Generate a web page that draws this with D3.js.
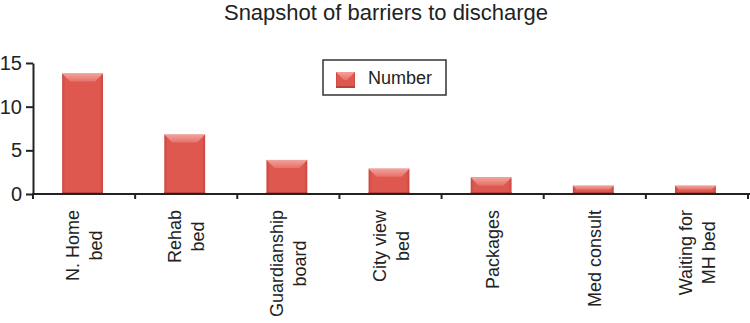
<!DOCTYPE html>
<html>
<head>
<meta charset="utf-8">
<script src="https://cdn.jsdelivr.net/npm/d3@7"></script>
<style>
  body { margin: 0; background: #fff; }
  text { font-family: "Liberation Sans", Arial, sans-serif; fill: #222; }
</style>
</head>
<body>
<script>
const categories = ["N. Home bed", "Rehab bed", "Guardianship board", "City view bed", "Packages", "Med consult", "Waiting for MH bed"]
const labelLines = [["N. Home", "bed"], ["Rehab", "bed"], ["Guardianship", "board"], ["City view", "bed"], ["Packages"], ["Med consult"], ["Waiting for", "MH bed"]]
const values = [13.8, 6.8, 3.9, 2.9, 1.9, 0.95, 0.95]
const yTicks = [0, 5, 10, 15]
const seriesName = "Number"

const WIDTH = 750
const HEIGHT = 323

const PADDING = {
    left: 33,
    right: 2,
    top: 63,
    bottom: 129
}

const svg = d3.select("body")
    .append("svg")
    .attr("width", WIDTH)
    .attr("height", HEIGHT)

const defs = svg.append("defs")

const face = defs.append("linearGradient")
    .attr("id", "face")
    .attr("x1", "0").attr("x2", "1").attr("y1", "0").attr("y2", "0")
face.append("stop").attr("offset", "0").attr("stop-color", "#c9463e")
face.append("stop").attr("offset", "0.08").attr("stop-color", "#de5850")
face.append("stop").attr("offset", "0.92").attr("stop-color", "#de5850")
face.append("stop").attr("offset", "1").attr("stop-color", "#c9463e")

const bevel = defs.append("linearGradient")
    .attr("id", "bevel")
    .attr("x1", "0").attr("x2", "0").attr("y1", "0").attr("y2", "1")
bevel.append("stop").attr("offset", "0").attr("stop-color", "#f3a29c")
bevel.append("stop").attr("offset", "1").attr("stop-color", "#e6716a")

svg.append("text")
    .attr("x", 386)
    .attr("y", 20)
    .attr("text-anchor", "middle")
    .style("font-size", "22px")
    .text("Snapshot of barriers to discharge")

const xScale = d3.scaleBand()
    .domain(categories)
    .range([PADDING.left, WIDTH - PADDING.right])
    .padding(0)

const yScale = d3.scaleLinear()
    .domain([0, 15])
    .range([HEIGHT - PADDING.bottom, PADDING.top])

const barW = xScale.bandwidth() * 0.4

function drawBar(g, x, y, w, h) {
    const d = Math.min(8, h / 2)
    g.append("rect")
        .attr("x", x).attr("y", y)
        .attr("width", w).attr("height", h)
        .attr("fill", "url(#face)")
    g.append("polygon")
        .attr("points", [[x, y], [x + w, y], [x + w - d, y + d], [x + d, y + d]].map(p => p.join(",")).join(" "))
        .attr("fill", "url(#bevel)")
    g.append("rect")
        .attr("x", x).attr("y", y + h - 2)
        .attr("width", w).attr("height", 2)
        .attr("fill", "#b8433b")
}

const bars = svg.append("g")
categories.forEach((c, i) => {
    const x = xScale(c) + xScale.bandwidth() / 2 - barW / 2 - 1.5
    const y = yScale(values[i])
    drawBar(bars, x, y, barW, yScale(0) - y)
})

// y axis
const yAxis = d3.axisLeft(yScale)
    .tickValues(yTicks)
    .tickSize(7)
    .tickSizeOuter(0)
    .tickPadding(4)

const yG = svg.append("g")
    .attr("transform", "translate(" + PADDING.left + ",0)")
    .call(yAxis)
yG.select(".domain").attr("stroke", "#222").attr("stroke-width", 2)
yG.selectAll(".tick line").attr("stroke", "#222").attr("stroke-width", 2)
yG.selectAll(".tick text")
    .style("font-size", "20px")
    .style("font-family", "'Liberation Sans', Arial, sans-serif")
    .attr("fill", "#222")

// x axis with ticks on band boundaries
const xAxis = d3.axisBottom(xScale).tickSize(0).tickFormat("")
const xG = svg.append("g")
    .attr("transform", "translate(0," + yScale(0) + ")")
    .call(xAxis)
xG.select(".domain").attr("stroke", "#222").attr("stroke-width", 2)
    .attr("d", "M" + (PADDING.left - 1) + ",0H" + WIDTH)

const bounds = categories.map(c => xScale(c)).concat([xScale.range()[1]])
xG.selectAll(".bound")
    .data(bounds)
    .enter()
    .append("line")
    .attr("class", "bound")
    .attr("x1", d => d).attr("x2", d => d)
    .attr("y1", 0).attr("y2", 5)
    .attr("stroke", "#222")
    .attr("stroke-width", 2)

// category labels, rotated
const labelTop = 210
const lineGap = 23
const labels = svg.append("g")
categories.forEach((c, i) => {
    const lines = labelLines[i]
    const cx = xScale(c) + xScale.bandwidth() / 2
    const t = labels.append("text")
        .attr("text-anchor", "middle")
        .style("font-size", "18px")
    lines.forEach((ln, j) => {
        t.append("tspan")
            .attr("x", 0)
            .attr("y", (j - (lines.length - 1) / 2) * lineGap + 6.5)
            .text(ln)
    })
    let maxLen = 0
    t.selectAll("tspan").each(function () {
        maxLen = Math.max(maxLen, this.getComputedTextLength())
    })
    t.attr("transform", "translate(" + cx + "," + (labelTop + maxLen / 2) + ") rotate(-90)")
})

// legend
const legend = svg.append("g")
legend.append("rect")
    .attr("x", 323).attr("y", 60)
    .attr("width", 123).attr("height", 35)
    .attr("fill", "#fff")
    .attr("stroke", "#333")
    .attr("stroke-width", 1.5)
drawBar(legend, 336, 72, 19, 16)
legend.append("text")
    .attr("x", 368)
    .attr("y", 84)
    .style("font-size", "18px")
    .text(seriesName)
</script>
</body>
</html>
